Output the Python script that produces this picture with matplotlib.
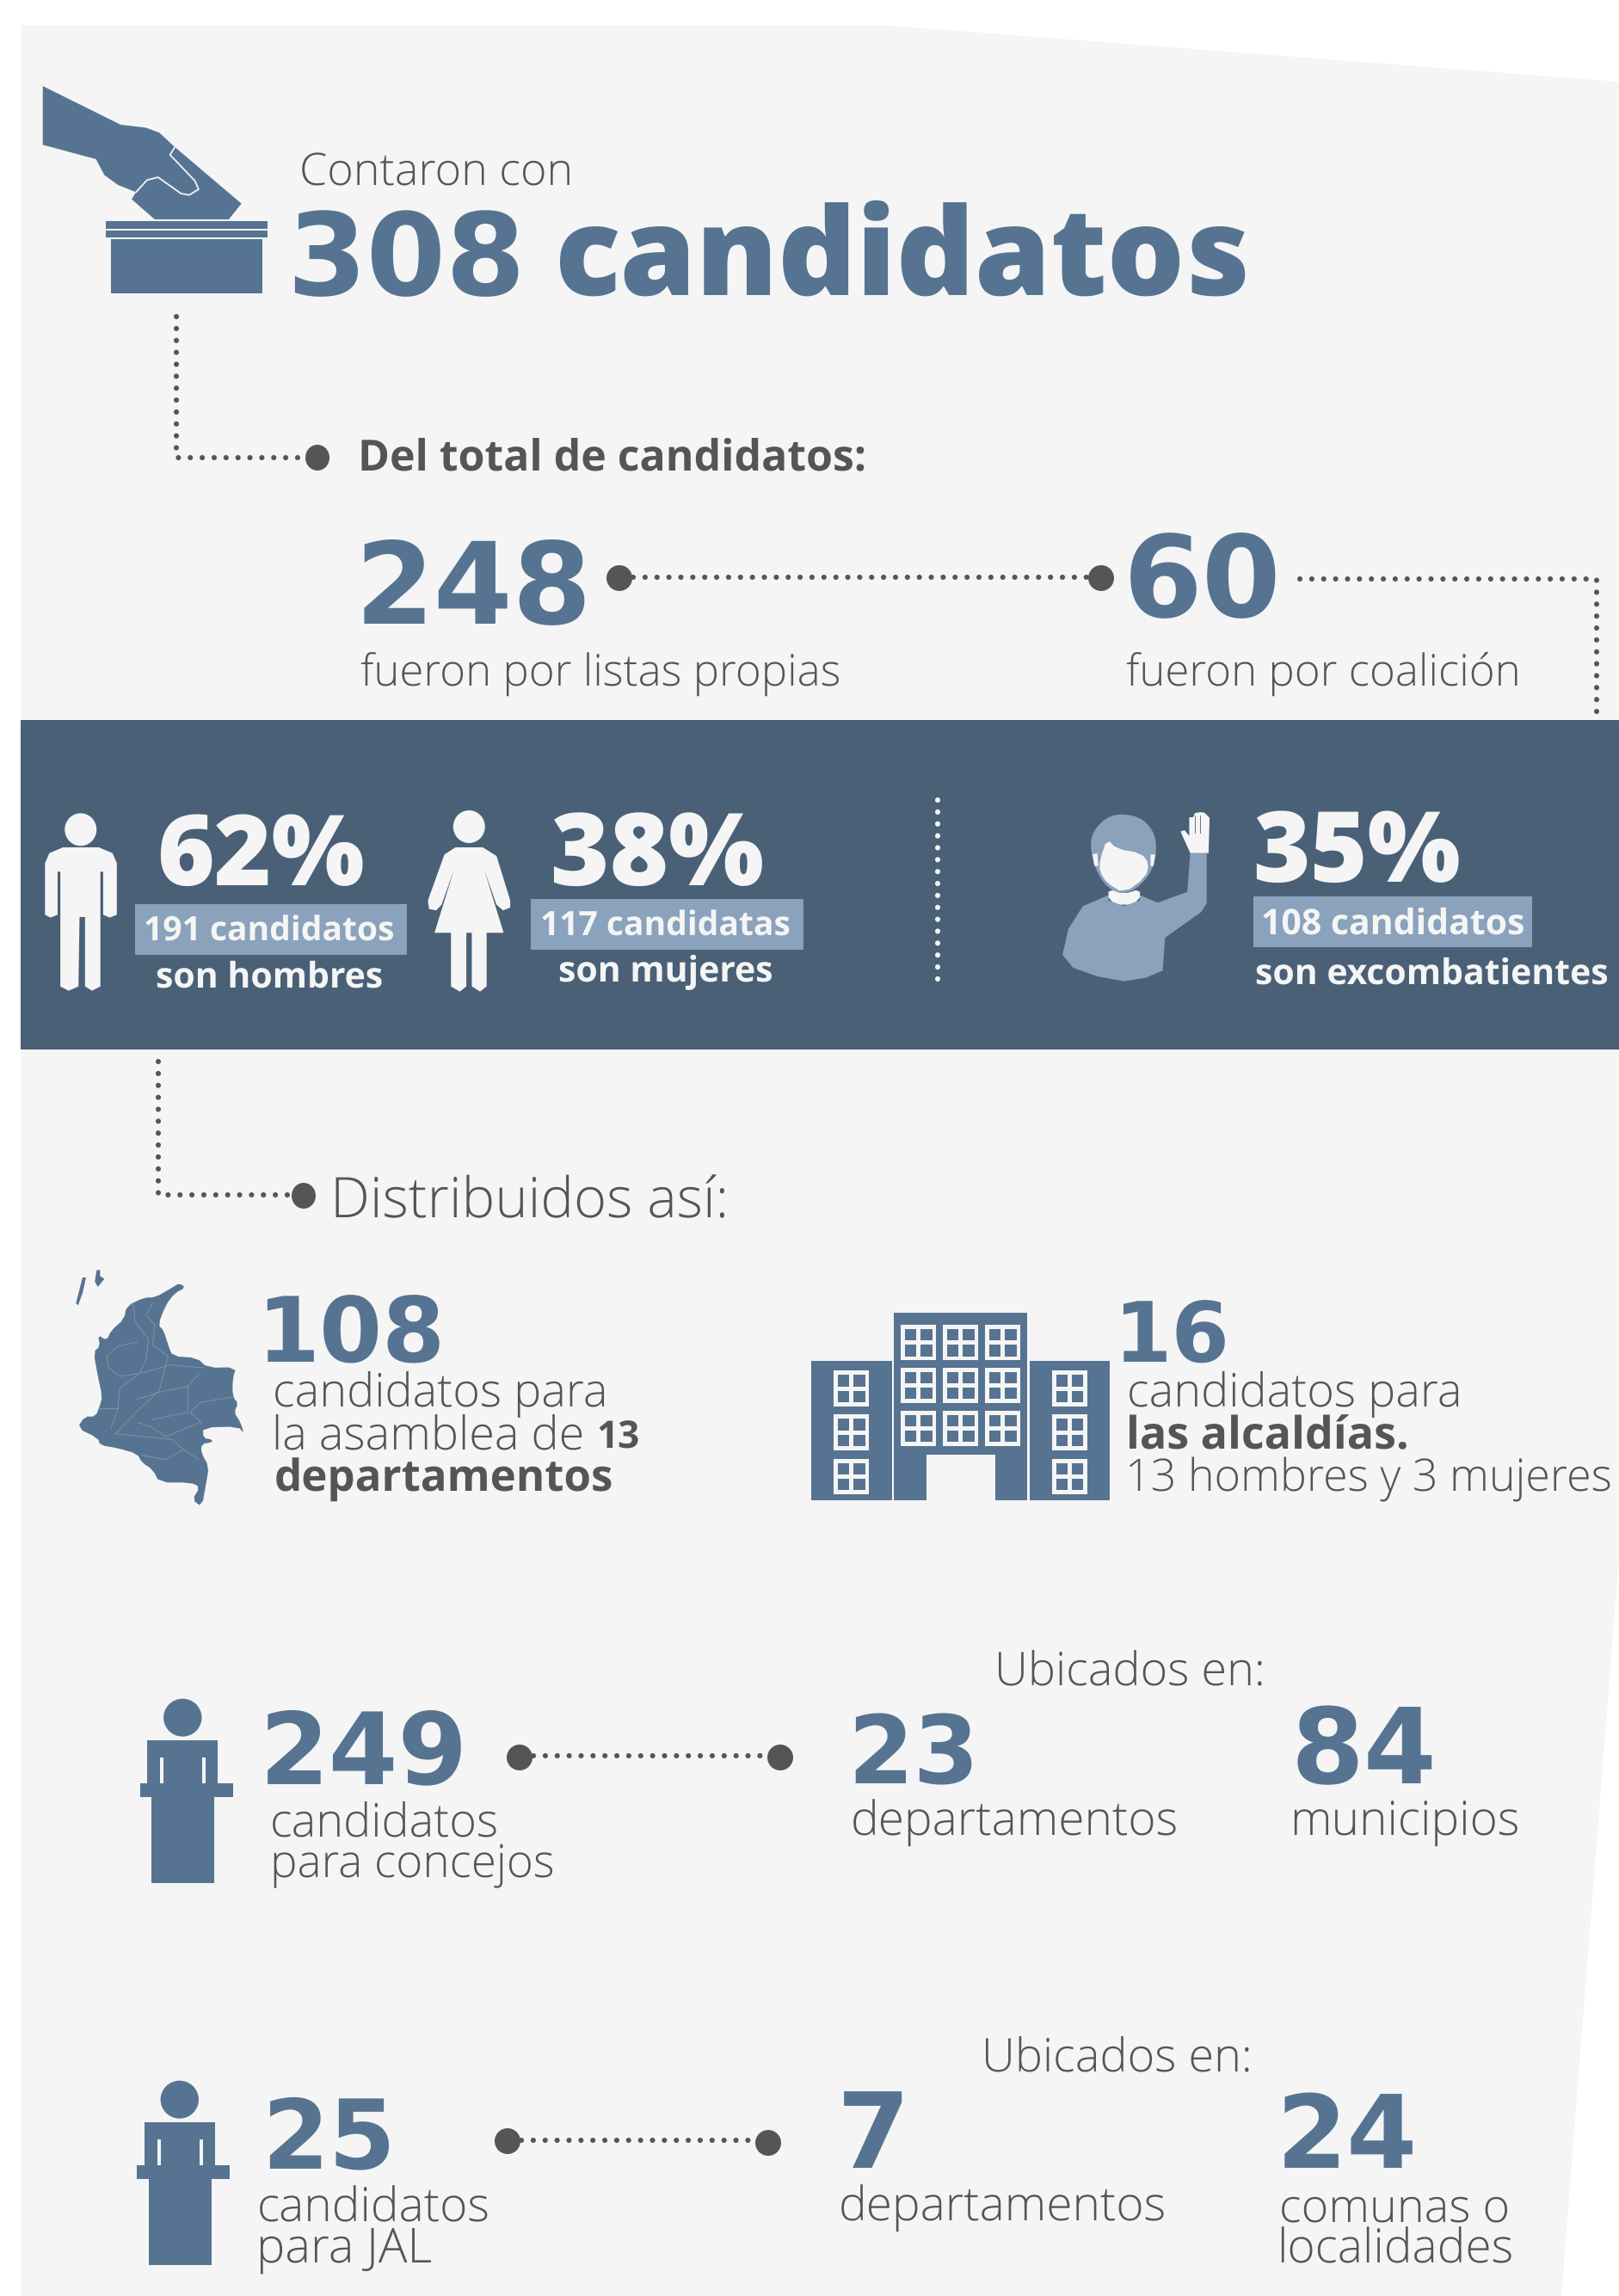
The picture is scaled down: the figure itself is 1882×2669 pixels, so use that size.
import numpy as np
import matplotlib
matplotlib.use('Agg')
import matplotlib.pyplot as plt
from matplotlib.patches import Polygon, Rectangle, Ellipse
from matplotlib.figure import Figure
from matplotlib.backends.backend_agg import FigureCanvasAgg
from matplotlib.font_manager import FontProperties

plt.rcParams['text.hinting'] = 'no_hinting'
plt.rcParams['text.hinting_factor'] = 1

# ---------- data ----------
total_candidates = 308
list_types = ["fueron por listas propias", "fueron por coalición"]
list_counts = [248, 60]
gender_pct = [62, 38]
gender_counts = [191, 117]
gender_nouns = ["candidatos", "candidatas"]
gender_labels = ["son hombres", "son mujeres"]
excomb_pct = 35
excomb_count = 108
assembly_count = 108
mayor_count = 16
council_count = 249
jal_count = 25
council_places = [23, 84]
jal_places = [7, 24]

BLUE = '#567491'
BAND = '#4a6077'
PALE = '#8aa2bb'
GRAY = '#555555'
BG = '#f5f5f5'
FAM = 'Open Sans'
NUMFAM = 'DejaVu Sans'

W, H = 1882, 2669
fig = plt.figure(figsize=(W/100, H/100), dpi=100, facecolor='white')
ax = fig.add_axes([0, 0, 1, 1])
ax.set_xlim(0, W); ax.set_ylim(H, 0); ax.axis('off')


def ink(s, fp, size):
    """Measured ink left edge (relative to the anchor) and ink width, in pixels."""
    f = Figure(figsize=(24, 4), dpi=100, facecolor='white')
    canvas = FigureCanvasAgg(f)
    f.text(100/2400, 0.5, s, fontproperties=fp, fontsize=size, color='black', ha='left', va='baseline')
    canvas.draw()
    a = np.asarray(canvas.buffer_rgba())[..., 0]
    cols = np.where(a.min(axis=0) < 128)[0]
    return cols[0]-100, cols[-1]-cols[0]+1


def T(x0, x1, y, s, color=GRAY, weight='light', z=5, fam=FAM, pads=None):
    """Text whose ink spans about x0..x1 with baseline y (pixels)."""
    if pads is None:
        p = min(3, 0.012*(x1-x0))
        pads = (p, p)
    x0, x1 = x0+pads[0], x1-pads[1]
    fp = FontProperties(family=fam, weight=weight)
    size = 40.0
    for _ in range(3):
        left, w = ink(s, fp, size)
        size *= (x1-x0)/w
    left, w = ink(s, fp, size)
    ax.text(x0-left, y, s, fontproperties=fp, fontsize=size, color=color, ha='left', va='baseline', zorder=z)


def N(x0, x1, y, s, color=BLUE):
    T(x0, x1, y, s, color, 'bold', fam=NUMFAM, pads=(6, 2))


def chaikin(pts, n):
    p = np.asarray(pts, float)
    for _ in range(n):
        q = np.roll(p, -1, axis=0)
        p = np.column_stack([0.75*p+0.25*q, 0.25*p+0.75*q]).reshape(-1, 2)
    return p


def P(pts, fx, fy, color=BLUE, z=2, smooth=0):
    mapped = [(fx(a), fy(b)) for a, b in pts]
    ax.add_patch(Polygon(chaikin(mapped, smooth), closed=True, fc=color, ec='none', zorder=z))


def dots(xs, ys, color=GRAY, gap=13.8, lw=4.4, z=3):
    ax.plot(xs, ys, color=color, lw=lw, linestyle=(0, (0.01, gap/(lw*100/72))),
            dash_capstyle='round', solid_capstyle='round', zorder=z)


def dot(x, y, rx=14, ry=15):
    ax.add_patch(Ellipse((x, y), 2*rx, 2*ry, fc=GRAY, ec='none', zorder=4))


# ---------- background ----------
ax.add_patch(Polygon([(24, 29), (1024, 29), (1882, 95), (1882, 1810), (1815, 2669), (24, 2669)],
                     closed=True, fc=BG, ec='none', zorder=0))
ax.add_patch(Rectangle((24, 837), W-24, 383, fc=BAND, ec='none', zorder=1))

# ---------- ballot icon ----------
zx = lambda a: a/1.568
zy = lambda b: 60+b/3
P([(78, 120), (220, 255), (265, 265), (290, 282), (320, 335), (440, 530), (417, 585), (282, 585), (240, 515),
   (248, 490), (215, 465), (190, 430), (175, 375), (78, 325)], zx, zy)
fx_ = [(318, 335), (310, 360), (355, 450), (362, 480), (345, 500), (330, 495), (288, 438), (268, 448), (248, 490)]
ax.plot([zx(a) for a, _ in fx_], [zy(b) for _, b in fx_], color=BG, lw=1.3, zorder=3)
for (a0, b0, a1, b1) in [(193, 592, 487, 617), (193, 623, 487, 648), (202, 655, 479, 843)]:
    ax.add_patch(Rectangle((zx(a0), zy(b0)), zx(a1)-zx(a0), zy(b1)-zy(b0), fc=BLUE, ec='none', zorder=2))

T(348, 663, 215, "Contaron con")
N(337, 603, 343, f"{total_candidates}")
T(648, 1451, 343, "candidatos", BLUE, 'extra bold')

dots([205, 205, 358], [368, 532, 532])
dot(369, 532)
T(417, 1009, 547, "Del total de candidatos:", GRAY, 'bold')

N(417, 681, 725, str(list_counts[0]))
dot(720, 672, 15, 15)
dots([736, 1270], [671, 671])
dot(1280, 672, 15, 15)
N(1308, 1484, 717, str(list_counts[1]))
T(417, 975, 797, list_types[0])
T(1307, 1771, 797, list_types[1])
dots([1511, 1856, 1856], [673, 673, 835])

# ---------- band: gender ----------
g2x = lambda a: a/1.568
g2y = lambda b: 830+b/3
ax.add_patch(Ellipse((g2x(147), g2y(403)), 58/1.568, 114/3, fc=BG, ec='none', zorder=3))
P([(82, 520), (90, 485), (115, 465), (180, 465), (205, 485), (213, 520), (213, 700), (200, 710), (188, 700), (188, 550),
   (183, 550), (183, 950), (168, 965), (155, 950), (155, 708), (145, 708), (143, 950), (125, 965), (110, 950), (110, 550),
   (105, 550), (105, 700), (92, 710), (82, 700)], g2x, g2y, BG, 3)
ax.add_patch(Ellipse((g2x(855), g2y(393)), 58/1.568, 114/3, fc=BG, ec='none', zorder=3))
P([(830, 465), (810, 490), (780, 650), (782, 680), (795, 685), (805, 665), (828, 540), (792, 763), (822, 763), (822, 950),
   (838, 968), (850, 950), (850, 763), (860, 763), (860, 950), (875, 968), (887, 950), (887, 763), (918, 763), (882, 540),
   (905, 665), (917, 685), (930, 675), (930, 650), (905, 495), (880, 465)], g2x, g2y, BG, 3)

ax.add_patch(Rectangle((157.5, 1051), 315.5, 59, fc=PALE, ec='none', zorder=2))
ax.add_patch(Rectangle((617, 1045), 317, 59, fc=PALE, ec='none', zorder=2))
T(184, 424, 1029, f"{gender_pct[0]}%", BG, 'extra bold')
T(641, 888, 1029, f"{gender_pct[1]}%", BG, 'extra bold')
T(167, 460, 1094, f"{gender_counts[0]} {gender_nouns[0]}", BG, 'bold')
T(628, 918, 1088, f"{gender_counts[1]} {gender_nouns[1]}", BG, 'bold')
T(180, 448, 1148, gender_labels[0], BG, 'bold')
T(648, 898, 1141, gender_labels[1], BG, 'bold')

dots([1090, 1090], [930, 1147], color=BG)

# ---------- band: ex-combatant ----------
g3x = lambda a: 1000+a/1.778
g3y = lambda b: 830+b/3
P([(460, 670), (513, 632), (513, 650), (545, 670), (578, 650), (578, 632), (615, 658), (676, 620), (682, 485), (716, 485),
   (716, 660), (705, 690), (630, 780), (625, 895), (590, 920), (545, 932), (490, 915), (440, 885), (418, 840), (430, 750)],
  g3x, g3y, PALE, 3)
P([(475, 470), (480, 410), (510, 358), (545, 347), (585, 365), (610, 420), (612, 490), (600, 560), (560, 625), (520, 620),
   (490, 560)], g3x, g3y, PALE, 3, smooth=2)
P([(513, 610), (545, 628), (578, 610), (578, 650), (545, 670), (513, 650)], g3x, g3y, BG, 4, smooth=1)
P([(495, 510), (510, 435), (530, 470), (580, 485), (597, 520), (590, 570), (545, 625), (510, 590), (495, 550)],
  g3x, g3y, BG, 4, smooth=1)
P([(480, 490), (490, 485), (492, 530), (484, 530)], g3x, g3y, BG, 4)
P([(600, 490), (610, 490), (606, 530), (600, 530)], g3x, g3y, BG, 4)
P([(682, 485), (662, 410), (670, 405), (680, 425), (680, 360), (688, 360), (692, 345), (705, 342), (712, 345), (722, 362),
   (720, 485)], g3x, g3y, BG, 4)
for a in (691, 703):
    ax.plot([g3x(a), g3x(a)], [g3y(355), g3y(415)], color=BAND, lw=0.6, zorder=5)
ax.add_patch(Rectangle((1457, 1042), 324, 59, fc=PALE, ec='none', zorder=2))
T(1458, 1697, 1025, f"{excomb_pct}%", BG, 'extra bold')
T(1466, 1772, 1086, f"{excomb_count} candidatos", BG, 'bold')
T(1458, 1873, 1144, "son excombatientes", BG, 'bold')

# ---------- distribuidos ----------
dots([184, 184, 340], [1234, 1389, 1389])
dot(353, 1390, 14, 15)
T(388, 849, 1415, "Distribuidos así:")

# map
m4x = lambda a: 50+a/1.96
m4y = lambda b: 1440+b/3
P([(310, 155), (325, 170), (300, 190), (280, 230), (262, 300), (275, 320), (285, 370), (295, 410), (350, 415), (375, 450),
   (440, 448), (432, 490), (432, 550), (445, 575), (435, 605), (450, 640), (458, 680), (445, 655), (365, 658), (365, 695),
   (385, 700), (385, 710), (362, 715), (360, 745), (378, 795), (372, 850), (362, 935), (340, 910), (358, 865), (335, 850),
   (265, 850), (250, 805), (225, 780), (215, 750), (170, 730), (130, 720), (125, 695), (78, 660), (95, 620), (120, 620),
   (130, 580), (135, 550), (125, 480), (115, 395), (130, 375), (125, 335), (145, 355), (155, 320), (185, 280), (190, 235),
   (230, 205), (255, 205), (295, 170)], m4x, m4y, smooth=1)
P([(90, 135), (98, 135), (90, 190), (80, 232), (75, 225)], m4x, m4y)
P([(122, 110), (130, 108), (130, 130), (140, 140), (125, 168), (118, 150)], m4x, m4y)
borders = [
    [(205, 225), (210, 290), (240, 350), (235, 420), (220, 470), (175, 520), (170, 600), (155, 660)],
    [(250, 225), (235, 265), (255, 300), (250, 370), (285, 410), (265, 530), (215, 600), (165, 680), (295, 700), (320, 735), (355, 770)],
    [(145, 410), (170, 375), (215, 360)],
    [(145, 410), (150, 450), (175, 480), (220, 470), (290, 440), (365, 450)],
    [(355, 470), (330, 515), (265, 535), (215, 560)],
    [(330, 515), (330, 605), (250, 630)],
    [(335, 605), (360, 570), (432, 552)],
    [(335, 605), (360, 640), (310, 670), (280, 690), (245, 655), (215, 640)],
    [(125, 590), (170, 590)],
    [(225, 755), (280, 770), (320, 735)],
]
for b in borders:
    ax.plot([m4x(a) for a, _ in b], [m4y(c) for _, c in b], color='#7f98b0', lw=0.6, zorder=3)

N(305, 514, 1584, str(assembly_count))
T(317, 705, 1635, "candidatos para")
T(318, 683, 1684, "la asamblea de")
T(697, 743, 1684, "13", GRAY, 'bold')
T(318, 714, 1734, "departamentos", GRAY, 'bold')

# building
bx = lambda a: 900+a/3
by = lambda b: 1460+b/3
for (a0, b0, a1, b1) in [(128, 367, 411, 853), (890, 367, 1171, 853), (418, 198, 881, 853)]:
    ax.add_patch(Rectangle((bx(a0), by(b0)), (a1-a0)/3, (b1-b0)/3, fc=BLUE, ec='none', zorder=2))
ax.add_patch(Rectangle((bx(530), by(692)), 240/3, 161/3+1, fc=BG, ec='none', zorder=3))


def window(a, b):
    ax.add_patch(Rectangle((bx(a), by(b)), 124/3, 124/3, fc=BG, ec='none', zorder=3))
    for da in (15, 70):
        for db in (15, 70):
            ax.add_patch(Rectangle((bx(a+da), by(b+db)), 40/3, 40/3, fc=BLUE, ec='none', zorder=4))


for a in (207, 968):
    for b in (400, 553, 707):
        window(a, b)
for a in (441, 588, 735):
    for b in (240, 389, 539):
        window(a, b)

N(1300, 1426, 1584, str(mayor_count))
T(1310, 1702, 1635, "candidatos para")
T(1310, 1634, 1684, "las alcaldías.", GRAY, 'bold')
T(1310, 1873, 1734, "13 hombres y 3 mujeres")


# ---------- podiums ----------
def podium(dx, dy):
    px = lambda a: 130+a/2.613+dx
    py = lambda b: 1920+b/3+dy
    ax.add_patch(Ellipse((px(215), py(230)), 116/2.613, 132/3, fc=BLUE, ec='none', zorder=2))
    for (a0, b0, a1, b1) in [(108, 310, 322, 460), (85, 460, 368, 506), (121, 506, 311, 808)]:
        ax.add_patch(Rectangle((px(a0), py(b0)), (a1-a0)/2.613, (b1-b0)/3, fc=BLUE, ec='none', zorder=2))
    for (a0, a1) in [(147, 157), (275, 285)]:
        ax.add_patch(Rectangle((px(a0), py(368)), (a1-a0)/2.613, 92/3, fc=BG, ec='none', zorder=3))


podium(0, 0)
N(305, 538, 2073, str(council_count))
T(314, 581, 2134, "candidatos")
T(316, 647, 2182, "para concejos")
dot(604, 2043, 15, 15)
dots([620, 895], [2041, 2041])
dot(907, 2043, 15, 15)
T(1158, 1469, 1958, "Ubicados en:")
N(989, 1132, 2073, str(council_places[0]))
T(989, 1365, 2134, "departamentos")
N(1502, 1666, 2073, str(council_places[1]))
T(1502, 1770, 2134, "municipios")

podium(-3.5, 444)
N(308, 454, 2520, str(jal_count))
T(299, 568, 2582, "candidatos")
T(301, 505, 2630, "para JAL")
dot(590, 2489, 15, 15)
dots([606, 880], [2488, 2488])
dot(893, 2491, 15, 15)
T(1143, 1455, 2407, "Ubicados en:")
N(975, 1050, 2520, str(jal_places[0]))
T(975, 1351, 2582, "departamentos")
N(1487, 1644, 2520, str(jal_places[1]))
T(1487, 1754, 2582, "comunas o")
T(1487, 1761, 2630, "localidades")

fig.savefig('out.png', dpi=100, facecolor='white')
